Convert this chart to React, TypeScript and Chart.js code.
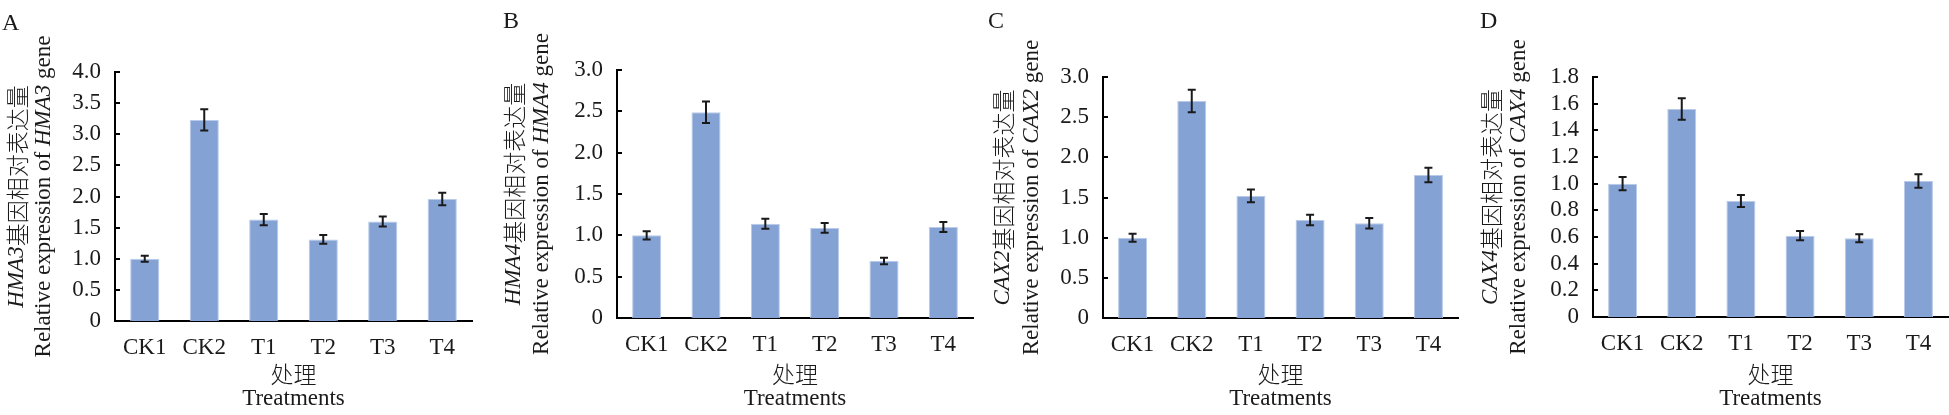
import React, { useEffect, useRef } from 'react';
import { Chart, registerables } from 'chart.js';

Chart.register(...registerables);

// ---------- data ----------
const categories = ['CK1', 'CK2', 'T1', 'T2', 'T3', 'T4'];

const hma3Values = [1.0, 3.23, 1.63, 1.31, 1.6, 1.96];
const hma3Errors = [0.05, 0.17, 0.09, 0.07, 0.08, 0.1];

const hma4Values = [1.0, 2.49, 1.14, 1.09, 0.69, 1.1];
const hma4Errors = [0.05, 0.13, 0.06, 0.06, 0.04, 0.06];

const cax2Values = [1.0, 2.7, 1.52, 1.22, 1.18, 1.78];
const cax2Errors = [0.05, 0.14, 0.08, 0.065, 0.065, 0.09];

const cax4Values = [1.0, 1.56, 0.87, 0.61, 0.59, 1.02];
const cax4Errors = [0.05, 0.08, 0.045, 0.035, 0.03, 0.05];

const panelLetters = ['A', 'B', 'C', 'D'];
const geneNames = ['HMA3', 'HMA4', 'CAX2', 'CAX4'];
const yMaxes = [4.0, 3.0, 3.0, 1.8];
const ySteps = [0.5, 0.5, 0.5, 0.2];
const zhTitleSuffix = '基因相对表达量';
const enTitlePrefix = 'Relative expression of ';
const enTitleSuffix = ' gene';
const xTitleZh = '处理';
const xTitleEn = 'Treatments';

const seriesValues = [hma3Values, hma4Values, cax2Values, cax4Values];
const seriesErrors = [hma3Errors, hma4Errors, cax2Errors, cax4Errors];

// ---------- layout (page coordinates) ----------
const PAGE_W = 1949;
const PAGE_H = 415;
const layouts = [
  { canvasLeft: 0, width: 487, axisLeft: 115, axisRight: 472, top: 72, bottom: 321, zhX: 17, enX: 44, letterX: 2, letterY: 30 },
  { canvasLeft: 487, width: 488, axisLeft: 617, axisRight: 973, top: 70, bottom: 318, zhX: 514, enX: 542, letterX: 503, letterY: 28 },
  { canvasLeft: 975, width: 485, axisLeft: 1103, axisRight: 1458, top: 77, bottom: 318, zhX: 1003, enX: 1032, letterX: 988, letterY: 28 },
  { canvasLeft: 1460, width: 489, axisLeft: 1593, axisRight: 1948, top: 77, bottom: 317, zhX: 1491, enX: 1519, letterX: 1480, letterY: 28 },
];

const SERIF = "'Liberation Serif', 'Times New Roman', serif";
const CJK = "'Noto Sans CJK SC', 'Liberation Serif', sans-serif";
const FS = 23;
const TEXT = '#1a1a1a';
const BAR = '#85a2d4';
const BAR_EDGE = '#b9cbe9';
const Y_AXIS_W = 60;

type Seg = { t: string; italic?: boolean; cjk?: boolean };

function drawSegs(ctx: CanvasRenderingContext2D, segs: Seg[], cx: number, cy: number, rotate: boolean) {
  ctx.save();
  ctx.translate(cx, cy);
  if (rotate) ctx.rotate(-Math.PI / 2);
  ctx.textBaseline = 'middle';
  ctx.textAlign = 'left';
  ctx.fillStyle = TEXT;
  const fontOf = (s: Seg) =>
    s.cjk ? `300 ${FS}px ${CJK}` : `${s.italic ? 'italic ' : ''}${FS}px ${SERIF}`;
  let total = 0;
  const widths = segs.map((s) => {
    ctx.font = fontOf(s);
    const w = ctx.measureText(s.t).width;
    total += w;
    return w;
  });
  let x = -total / 2;
  segs.forEach((s, i) => {
    ctx.font = fontOf(s);
    ctx.fillText(s.t, x, 0);
    x += widths[i];
  });
  ctx.restore();
}

function Panel({ idx }: { idx: number }) {
  const ref = useRef<HTMLCanvasElement | null>(null);
  const L = layouts[idx];

  useEffect(() => {
    if (!ref.current) return;
    const values = seriesValues[idx];
    const errors = seriesErrors[idx];
    const gene = geneNames[idx];
    const off = L.canvasLeft;

    const decor = {
      id: 'decor' + idx,
      afterDatasetsDraw(chart: any) {
        const ctx: CanvasRenderingContext2D = chart.ctx;
        const ys = chart.scales.y;
        const meta = chart.getDatasetMeta(0);
        ctx.save();
        ctx.strokeStyle = '#1a1a1a';
        ctx.lineWidth = 2;
        meta.data.forEach((bar: any, i: number) => {
          const v = values[i];
          const e = errors[i];
          const yt = ys.getPixelForValue(v + e);
          const yb = ys.getPixelForValue(v - e);
          const x = bar.x;
          ctx.beginPath();
          ctx.moveTo(x, yt);
          ctx.lineTo(x, yb);
          ctx.moveTo(x - 4, yt);
          ctx.lineTo(x + 4, yt);
          ctx.moveTo(x - 4, yb);
          ctx.lineTo(x + 4, yb);
          ctx.stroke();
        });
        ctx.restore();
      },
      afterDraw(chart: any) {
        const ctx: CanvasRenderingContext2D = chart.ctx;
        const ys = chart.scales.y;
        const area = chart.chartArea;
        // inward ticks on y axis
        ctx.save();
        ctx.strokeStyle = '#000';
        ctx.lineWidth = 2;
        ys.ticks.forEach((t: any) => {
          const py = Math.round(ys.getPixelForValue(t.value));
          ctx.beginPath();
          ctx.moveTo(area.left, py);
          ctx.lineTo(area.left + 5, py);
          ctx.stroke();
        });
        ctx.restore();
        const cy = (area.top + area.bottom) / 2;
        // y titles
        drawSegs(ctx, [{ t: gene, italic: true }, { t: zhTitleSuffix, cjk: true }], L.zhX - off, cy, true);
        drawSegs(ctx, [{ t: enTitlePrefix }, { t: gene, italic: true }, { t: enTitleSuffix }], L.enX - off, cy, true);
        // x titles
        const cx = (area.left + area.right) / 2;
        drawSegs(ctx, [{ t: xTitleZh, cjk: true }], cx, 374, false);
        drawSegs(ctx, [{ t: xTitleEn }], cx, 399, false);
        // panel letter
        ctx.save();
        ctx.font = `24px ${SERIF}`;
        ctx.fillStyle = TEXT;
        ctx.textBaseline = 'alphabetic';
        ctx.textAlign = 'left';
        ctx.fillText(panelLetters[idx], L.letterX - off, L.letterY);
        ctx.restore();
      },
    };

    const chart = new Chart(ref.current, {
      type: 'bar',
      data: {
        labels: categories,
        datasets: [
          {
            data: values,
            backgroundColor: BAR,
            borderColor: BAR_EDGE,
            borderWidth: 1,
            categoryPercentage: 1,
            barPercentage: 0.49,
          },
        ],
      },
      options: {
        animation: false,
        responsive: true,
        maintainAspectRatio: false,
        devicePixelRatio: 1,
        layout: {
          padding: {
            left: L.axisLeft - L.canvasLeft - Y_AXIS_W,
            right: L.canvasLeft + L.width - L.axisRight,
            top: L.top,
            bottom: 0,
          },
        },
        plugins: {
          legend: { display: false },
          tooltip: { enabled: false },
          title: { display: false },
        },
        scales: {
          x: {
            grid: { display: false, drawTicks: false },
            border: { display: true, color: '#000', width: 2 },
            ticks: {
              color: TEXT,
              padding: 13,
              font: { family: SERIF, size: FS },
              maxRotation: 0,
              autoSkip: false,
            },
            afterFit: (s: any) => {
              s.height = PAGE_H - L.bottom;
            },
          },
          y: {
            min: 0,
            max: yMaxes[idx],
            grid: { display: false, drawTicks: false },
            border: { display: true, color: '#000', width: 2 },
            ticks: {
              stepSize: ySteps[idx],
              autoSkip: false,
              color: TEXT,
              padding: 14,
              font: { family: SERIF, size: FS, lineHeight: 1 },
              callback: (v: any) => (Math.abs(Number(v)) < 1e-9 ? '0' : Number(v).toFixed(1)),
            },
            afterFit: (s: any) => {
              s.width = Y_AXIS_W;
            },
          },
        },
      },
      plugins: [decor],
    } as any);

    return () => chart.destroy();
  }, [idx]);

  return (
    <div style={{ position: 'absolute', left: L.canvasLeft, top: 0, width: L.width, height: PAGE_H }}>
      <canvas ref={ref} />
    </div>
  );
}

export default function App() {
  return (
    <div style={{ position: 'absolute', left: 0, top: 0, width: PAGE_W, height: PAGE_H, background: '#fff' }}>
      {layouts.map((_, i) => (
        <Panel key={i} idx={i} />
      ))}
    </div>
  );
}
